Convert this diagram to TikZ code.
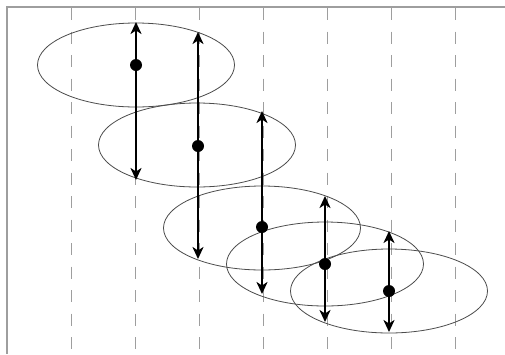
\documentclass[tikz,border=0pt]{standalone}
\usetikzlibrary{arrows.meta}
\begin{document}
\begin{tikzpicture}[x=1pt,y=-1pt,
  frameline/.style={draw=black!38,line width=1.1pt},
  gridline/.style={draw=black!38,line width=1pt,dash pattern=on 12pt off 11.5pt},
  orbit/.style={draw=black!70,line width=0.8pt},
  dotnode/.style={circle,fill=black,inner sep=0pt,minimum size=12pt},
  arr/.style={line width=2.1pt,{Stealth[length=12pt,width=11pt,inset=3.5pt]}-{Stealth[length=12pt,width=11pt,inset=3.5pt]}}]
\useasboundingbox (0,0) rectangle (505,354);
\fill[white] (0,0) rectangle (505,354);
% frame
\coordinate (tl) at (7,7);
\coordinate (tr) at (505,7);
\coordinate (bl) at (7,354);
\draw[frameline] (tr) -- (tl) -- (bl);
% dashed verticals
\foreach \x in {71,135,199,263,327,391,455}{
  \coordinate (g\x t) at (\x,8);
  \coordinate (g\x b) at (\x,354);
  \draw[gridline] (g\x t) -- (g\x b);
}
% ellipses
\foreach \n/\cx/\cy in {1/136/65,2/197/145,3/262/228,4/325/264,5/389/291}{
  \coordinate (c\n) at (\cx,\cy);
  \draw[orbit] (c\n) ellipse [x radius=98.5, y radius=42];
}
% arrows
\foreach \n/\cx/\ty/\by in {1/136/22/180,2/198/32/259,3/262/111/294,4/325/196/322,5/389/231/332}{
  \coordinate (a\n t) at (\cx,\ty);
  \coordinate (a\n b) at (\cx,\by);
  \draw[arr] (a\n t) -- (a\n b);
}
% dots
\node[dotnode] (d1) at (136,65) {};
\node[dotnode] (d2) at (198,146) {};
\node[dotnode] (d3) at (262,227) {};
\node[dotnode] (d4) at (325,264) {};
\node[dotnode] (d5) at (389,291) {};
\end{tikzpicture}
\end{document}
